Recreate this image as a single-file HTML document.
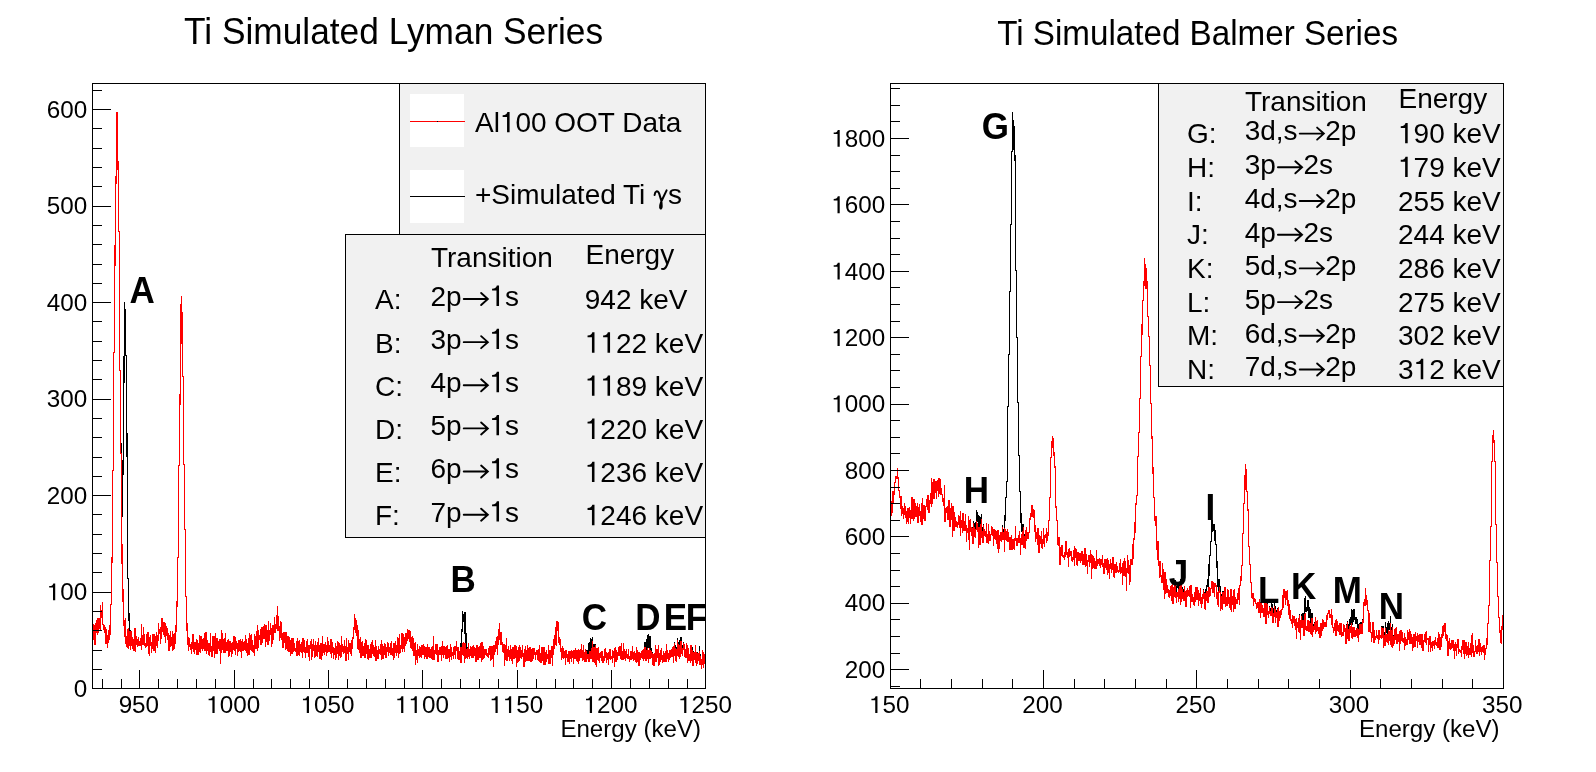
<!DOCTYPE html>
<html><head><meta charset="utf-8"><style>
html,body{margin:0;padding:0;background:#fff;}
svg{display:block;will-change:transform;}
text{font-family:"Liberation Sans",sans-serif;fill:#000;}
.c{shape-rendering:crispEdges;stroke-width:1px;}
path{fill:none;}
</style></head><body>
<svg width="1596" height="772" viewBox="0 0 1596 772">
<path d="M93.5 624v16M94.5 625v20M95.5 623v22M96.5 620v13M97.5 618v17M98.5 618v15M99.5 618v11M100.5 605v25M101.5 610v8M102.5 602v23M103.5 624v6M104.5 625v8M105.5 627v17M106.5 629v15M107.5 635v13M108.5 630v13M109.5 625v15M110.5 604v31M111.5 557v48M112.5 470v93M113.5 352v119M114.5 245v108M115.5 176v90M116.5 112v72M117.5 112v58M118.5 161v71M119.5 231v140M120.5 370v74M121.5 443v74M122.5 460v57M123.5 356v119M124.5 302v81M125.5 309v47M126.5 355v102M127.5 433v146M128.5 578v43M129.5 613v22M130.5 630v19M131.5 631v15M132.5 637v12M133.5 639v12M134.5 628v23M135.5 628v24M136.5 636v9M137.5 639v8M138.5 637v9M139.5 641v5M140.5 638v8M141.5 624v26M142.5 635v10M143.5 627v18M144.5 634v12M145.5 643v5M146.5 634v13M147.5 632v14M148.5 632v22M149.5 637v19M150.5 635v11M151.5 642v11M152.5 634v15M153.5 634v17M154.5 634v17M155.5 636v17M156.5 632v14M157.5 635v13M158.5 623v18M159.5 629v5M160.5 627v17M161.5 618v21M162.5 618v14M163.5 622v13M164.5 622v15M165.5 623v20M166.5 626v10M167.5 628v12M168.5 633v18M169.5 635v16M170.5 631v16M171.5 637v9M172.5 631v20M173.5 634v16M174.5 633v16M175.5 625v19M176.5 601v31M177.5 557v50M178.5 465v93M179.5 394v72M180.5 304v101M181.5 296v48M182.5 312v65M183.5 376v89M184.5 464v66M185.5 529v68M186.5 596v35M187.5 623v22M188.5 637v14M189.5 638v9M190.5 644v6M191.5 642v12M192.5 634v15M193.5 634v18M194.5 642v12M195.5 642v8M196.5 639v16M197.5 640v15M198.5 643v12M199.5 635v17M200.5 636v17M201.5 636v13M202.5 639v12M203.5 638v11M204.5 633v18M205.5 632v19M206.5 632v22M207.5 640v11M208.5 643v12M209.5 643v13M210.5 633v19M211.5 646v11M212.5 636v21M213.5 636v15M214.5 636v22M215.5 633v21M216.5 638v16M217.5 638v16M218.5 641v8M219.5 639v12M220.5 639v25M221.5 630v23M222.5 633v17M223.5 639v14M224.5 638v15M225.5 633v20M226.5 642v9M227.5 640v11M228.5 639v18M229.5 641v15M230.5 641v11M231.5 643v14M232.5 642v12M233.5 636v14M234.5 636v15M235.5 637v18M236.5 641v8M237.5 643v13M238.5 640v12M239.5 640v11M240.5 639v13M241.5 641v17M242.5 639v12M243.5 642v9M244.5 641v9M245.5 635v16M246.5 639v14M247.5 643v13M248.5 638v17M249.5 633v22M250.5 635v15M251.5 634v17M252.5 640v12M253.5 645v8M254.5 634v22M255.5 636v13M256.5 631v18M257.5 625v26M258.5 630v18M259.5 635v5M260.5 629v16M261.5 627v18M262.5 627v16M263.5 626v13M264.5 624v15M265.5 625v22M266.5 625v17M267.5 630v15M268.5 621v24M269.5 630v11M270.5 623v12M271.5 628v19M272.5 625v19M273.5 625v15M274.5 617v16M275.5 624v9M276.5 615v14M277.5 606v25M278.5 616v15M279.5 626v15M280.5 621v17M281.5 622v18M282.5 633v15M283.5 632v16M284.5 632v11M285.5 632v18M286.5 632v17M287.5 636v15M288.5 636v16M289.5 637v15M290.5 640v16M291.5 638v16M292.5 638v16M293.5 638v14M294.5 643v8M295.5 648v4M296.5 641v15M297.5 638v18M298.5 641v14M299.5 640v16M300.5 644v8M301.5 642v11M302.5 638v20M303.5 638v14M304.5 640v13M305.5 647v11M306.5 641v12M307.5 639v14M308.5 645v12M309.5 645v16M310.5 641v8M311.5 639v21M312.5 644v13M313.5 639v12M314.5 645v13M315.5 641v16M316.5 645v11M317.5 642v15M318.5 638v14M319.5 645v14M320.5 643v16M321.5 643v17M322.5 636v20M323.5 644v9M324.5 644v11M325.5 642v10M326.5 645v11M327.5 637v16M328.5 641v11M329.5 645v7M330.5 639v15M331.5 639v19M332.5 642v11M333.5 647v12M334.5 648v7M335.5 643v17M336.5 646v12M337.5 641v13M338.5 642v18M339.5 643v13M340.5 645v13M341.5 636v21M342.5 644v8M343.5 646v8M344.5 640v13M345.5 646v15M346.5 638v23M347.5 647v7M348.5 640v20M349.5 643v9M350.5 643v11M351.5 640v16M352.5 637v12M353.5 627v12M354.5 614v16M355.5 618v15M356.5 620v16M357.5 625v24M358.5 630v20M359.5 639v14M360.5 637v21M361.5 642v16M362.5 641v15M363.5 646v10M364.5 643v15M365.5 639v19M366.5 640v14M367.5 645v14M368.5 645v15M369.5 649v9M370.5 644v14M371.5 642v16M372.5 640v14M373.5 645v11M374.5 647v10M375.5 640v21M376.5 646v15M377.5 650v9M378.5 646v13M379.5 649v5M380.5 644v11M381.5 640v20M382.5 644v15M383.5 646v13M384.5 643v12M385.5 644v14M386.5 647v11M387.5 642v10M388.5 643v13M389.5 647v6M390.5 643v12M391.5 641v14M392.5 648v8M393.5 643v17M394.5 643v15M395.5 641v12M396.5 645v11M397.5 637v16M398.5 638v20M399.5 634v20M400.5 645v8M401.5 633v16M402.5 633v19M403.5 634v15M404.5 637v15M405.5 633v13M406.5 633v11M407.5 629v12M408.5 630v9M409.5 630v12M410.5 631v17M411.5 637v12M412.5 636v15M413.5 638v18M414.5 643v13M415.5 642v23M416.5 650v10M417.5 644v19M418.5 649v7M419.5 646v12M420.5 647v10M421.5 645v13M422.5 645v10M423.5 644v11M424.5 646v13M425.5 647v10M426.5 647v12M427.5 644v15M428.5 647v10M429.5 647v11M430.5 649v9M431.5 647v12M432.5 646v14M433.5 636v24M434.5 650v10M435.5 644v10M436.5 644v11M437.5 644v18M438.5 650v12M439.5 647v8M440.5 647v8M441.5 646v15M442.5 641v14M443.5 646v12M444.5 646v9M445.5 647v12M446.5 646v13M447.5 645v14M448.5 649v9M449.5 649v13M450.5 644v13M451.5 647v13M452.5 652v4M453.5 647v12M454.5 646v9M455.5 646v13M456.5 641v10M457.5 647v12M458.5 647v13M459.5 651v9M460.5 643v16M461.5 629v29M462.5 611v21M463.5 614v8M464.5 612v22M465.5 612v32M466.5 633v21M467.5 647v9M468.5 643v14M469.5 649v10M470.5 646v10M471.5 647v11M472.5 646v12M473.5 645v13M474.5 647v9M475.5 648v14M476.5 645v17M477.5 645v15M478.5 647v13M479.5 646v12M480.5 643v15M481.5 642v20M482.5 642v18M483.5 646v13M484.5 649v9M485.5 649v6M486.5 649v7M487.5 653v4M488.5 648v10M489.5 646v9M490.5 646v15M491.5 646v14M492.5 646v13M493.5 645v22M494.5 645v10M495.5 641v11M496.5 637v12M497.5 636v19M498.5 629v16M499.5 623v17M500.5 632v13M501.5 632v13M502.5 642v10M503.5 644v9M504.5 644v22M505.5 645v15M506.5 638v23M507.5 649v12M508.5 646v11M509.5 650v11M510.5 645v14M511.5 649v12M512.5 647v17M513.5 647v12M514.5 645v14M515.5 645v13M516.5 646v21M517.5 650v13M518.5 647v15M519.5 645v16M520.5 647v11M521.5 650v9M522.5 645v12M523.5 653v14M524.5 649v18M525.5 646v16M526.5 650v11M527.5 645v16M528.5 648v13M529.5 647v14M530.5 647v15M531.5 649v13M532.5 648v13M533.5 648v11M534.5 648v7M535.5 652v8M536.5 650v5M537.5 650v10M538.5 649v12M539.5 645v17M540.5 653v10M541.5 647v16M542.5 647v14M543.5 647v18M544.5 647v18M545.5 652v13M546.5 650v12M547.5 654v5M548.5 645v19M549.5 650v14M550.5 650v14M551.5 646v12M552.5 646v20M553.5 639v16M554.5 635v14M555.5 627v18M556.5 621v25M557.5 621v10M558.5 622v21M559.5 637v8M560.5 639v13M561.5 648v12M562.5 646v12M563.5 648v11M564.5 651v7M565.5 650v15M566.5 650v8M567.5 654v8M568.5 651v11M569.5 651v13M570.5 651v8M571.5 650v12M572.5 651v7M573.5 650v14M574.5 650v9M575.5 648v11M576.5 650v11M577.5 650v12M578.5 649v15M579.5 650v11M580.5 649v9M581.5 644v14M582.5 650v11M583.5 645v15M584.5 652v10M585.5 649v13M586.5 650v12M587.5 650v9M588.5 643v17M589.5 642v16M590.5 638v14M591.5 639v13M592.5 637v19M593.5 644v13M594.5 644v18M595.5 644v21M596.5 648v19M597.5 648v12M598.5 647v14M599.5 653v10M600.5 652v6M601.5 651v10M602.5 651v12M603.5 656v7M604.5 649v12M605.5 648v10M606.5 652v11M607.5 653v7M608.5 652v13M609.5 649v10M610.5 649v11M611.5 656v3M612.5 650v13M613.5 651v7M614.5 648v19M615.5 647v15M616.5 650v12M617.5 652v8M618.5 647v9M619.5 646v10M620.5 646v13M621.5 643v17M622.5 651v9M623.5 643v17M624.5 649v10M625.5 651v10M626.5 649v9M627.5 654v5M628.5 649v10M629.5 656v6M630.5 651v9M631.5 651v9M632.5 646v13M633.5 652v9M634.5 651v9M635.5 653v9M636.5 647v16M637.5 650v12M638.5 652v14M639.5 652v14M640.5 653v7M641.5 651v7M642.5 650v9M643.5 649v12M644.5 642v16M645.5 642v15M646.5 639v13M647.5 635v17M648.5 634v14M649.5 636v13M650.5 636v22M651.5 648v9M652.5 652v13M653.5 654v12M654.5 653v13M655.5 645v17M656.5 649v13M657.5 649v9M658.5 645v21M659.5 653v12M660.5 650v12M661.5 648v12M662.5 655v8M663.5 651v11M664.5 653v9M665.5 651v11M666.5 644v18M667.5 650v9M668.5 653v9M669.5 650v10M670.5 650v8M671.5 649v8M672.5 647v10M673.5 646v17M674.5 642v13M675.5 645v16M676.5 647v11M677.5 638v17M678.5 642v12M679.5 640v15M680.5 637v16M681.5 637v16M682.5 645v9M683.5 642v8M684.5 644v13M685.5 649v9M686.5 643v15M687.5 645v18M688.5 648v13M689.5 654v7M690.5 645v18M691.5 645v15M692.5 647v18M693.5 651v14M694.5 652v8M695.5 645v18M696.5 652v14M697.5 652v11M698.5 653v8M699.5 646v18M700.5 654v10M701.5 659v10M702.5 650v15M703.5 652v16M704.5 654v10" stroke="#000" class="c"/>
<path d="M93.5 624v16M94.5 625v20M95.5 623v22M96.5 620v13M97.5 618v17M98.5 618v15M99.5 618v11M100.5 605v25M101.5 610v8M102.5 602v23M103.5 624v6M104.5 625v8M105.5 627v17M106.5 629v15M107.5 635v13M108.5 630v13M109.5 625v15M110.5 604v31M111.5 557v48M112.5 470v93M113.5 352v119M114.5 245v108M115.5 176v90M116.5 112v72M117.5 112v58M118.5 161v71M119.5 231v140M120.5 370v84M121.5 453v111M122.5 544v58M123.5 589v37M124.5 620v17M125.5 618v26M126.5 636v11M127.5 629v19M128.5 628v21M129.5 631v15M130.5 631v19M131.5 631v15M132.5 637v12M133.5 639v12M134.5 628v23M135.5 628v24M136.5 636v9M137.5 639v8M138.5 637v9M139.5 641v5M140.5 638v8M141.5 624v26M142.5 635v10M143.5 627v18M144.5 634v12M145.5 643v5M146.5 634v13M147.5 632v14M148.5 632v22M149.5 637v19M150.5 635v11M151.5 642v11M152.5 634v15M153.5 634v17M154.5 634v17M155.5 636v17M156.5 632v14M157.5 635v13M158.5 623v18M159.5 629v5M160.5 627v17M161.5 618v21M162.5 618v14M163.5 622v13M164.5 622v15M165.5 623v20M166.5 626v10M167.5 628v12M168.5 633v18M169.5 635v16M170.5 631v16M171.5 637v9M172.5 631v20M173.5 634v16M174.5 633v16M175.5 625v19M176.5 601v31M177.5 557v50M178.5 465v93M179.5 394v72M180.5 304v101M181.5 296v48M182.5 312v65M183.5 376v89M184.5 464v66M185.5 529v68M186.5 596v35M187.5 623v22M188.5 637v14M189.5 638v9M190.5 644v6M191.5 642v12M192.5 634v15M193.5 634v18M194.5 642v12M195.5 642v8M196.5 639v16M197.5 640v15M198.5 643v12M199.5 635v17M200.5 636v17M201.5 636v13M202.5 639v12M203.5 638v11M204.5 633v18M205.5 632v19M206.5 632v22M207.5 640v11M208.5 643v12M209.5 643v13M210.5 633v19M211.5 646v11M212.5 636v21M213.5 636v15M214.5 636v22M215.5 633v21M216.5 638v16M217.5 638v16M218.5 641v8M219.5 639v12M220.5 639v25M221.5 630v23M222.5 633v17M223.5 639v14M224.5 638v15M225.5 633v20M226.5 642v9M227.5 640v11M228.5 639v18M229.5 641v15M230.5 641v11M231.5 643v14M232.5 642v12M233.5 636v14M234.5 636v15M235.5 637v18M236.5 641v8M237.5 643v13M238.5 640v12M239.5 640v11M240.5 639v13M241.5 641v17M242.5 639v12M243.5 642v9M244.5 641v9M245.5 635v16M246.5 639v14M247.5 643v13M248.5 638v17M249.5 633v22M250.5 635v15M251.5 634v17M252.5 640v12M253.5 645v8M254.5 634v22M255.5 636v13M256.5 631v18M257.5 625v26M258.5 630v18M259.5 635v5M260.5 629v16M261.5 627v18M262.5 627v16M263.5 626v13M264.5 624v15M265.5 625v22M266.5 625v17M267.5 630v15M268.5 621v24M269.5 630v11M270.5 623v12M271.5 628v19M272.5 625v19M273.5 625v15M274.5 617v16M275.5 624v9M276.5 615v14M277.5 606v25M278.5 616v15M279.5 626v15M280.5 621v17M281.5 622v18M282.5 633v15M283.5 632v16M284.5 632v11M285.5 632v18M286.5 632v17M287.5 636v15M288.5 636v16M289.5 637v15M290.5 640v16M291.5 638v16M292.5 638v16M293.5 638v14M294.5 643v8M295.5 648v4M296.5 641v15M297.5 638v18M298.5 641v14M299.5 640v16M300.5 644v8M301.5 642v11M302.5 638v20M303.5 638v14M304.5 640v13M305.5 647v11M306.5 641v12M307.5 639v14M308.5 645v12M309.5 645v16M310.5 641v8M311.5 639v21M312.5 644v13M313.5 639v12M314.5 645v13M315.5 641v16M316.5 645v11M317.5 642v15M318.5 638v14M319.5 645v14M320.5 643v16M321.5 643v17M322.5 636v20M323.5 644v9M324.5 644v11M325.5 642v10M326.5 645v11M327.5 637v16M328.5 641v11M329.5 645v7M330.5 639v15M331.5 639v19M332.5 642v11M333.5 647v12M334.5 648v7M335.5 643v17M336.5 646v12M337.5 641v13M338.5 642v18M339.5 643v13M340.5 645v13M341.5 636v21M342.5 644v8M343.5 646v8M344.5 640v13M345.5 646v15M346.5 638v23M347.5 647v7M348.5 640v20M349.5 643v9M350.5 643v11M351.5 640v16M352.5 637v12M353.5 627v12M354.5 614v16M355.5 618v15M356.5 620v16M357.5 625v24M358.5 630v20M359.5 639v14M360.5 637v21M361.5 642v16M362.5 641v15M363.5 646v10M364.5 643v15M365.5 639v19M366.5 640v14M367.5 645v14M368.5 645v15M369.5 649v9M370.5 644v14M371.5 642v16M372.5 640v14M373.5 645v11M374.5 647v10M375.5 640v21M376.5 646v15M377.5 650v9M378.5 646v13M379.5 649v5M380.5 644v11M381.5 640v20M382.5 644v15M383.5 646v13M384.5 643v12M385.5 644v14M386.5 647v11M387.5 642v10M388.5 643v13M389.5 647v6M390.5 643v12M391.5 641v14M392.5 648v8M393.5 643v17M394.5 643v15M395.5 641v12M396.5 645v11M397.5 637v16M398.5 638v20M399.5 634v20M400.5 645v8M401.5 633v16M402.5 633v19M403.5 634v15M404.5 637v15M405.5 633v13M406.5 633v11M407.5 629v12M408.5 630v9M409.5 630v12M410.5 631v17M411.5 637v12M412.5 636v15M413.5 638v18M414.5 643v13M415.5 642v23M416.5 650v10M417.5 644v19M418.5 649v7M419.5 646v12M420.5 647v10M421.5 645v13M422.5 645v10M423.5 644v11M424.5 646v13M425.5 647v10M426.5 647v12M427.5 644v15M428.5 647v10M429.5 647v11M430.5 649v9M431.5 647v12M432.5 646v14M433.5 636v24M434.5 650v10M435.5 644v10M436.5 644v11M437.5 644v18M438.5 650v12M439.5 647v8M440.5 647v8M441.5 646v15M442.5 641v14M443.5 646v12M444.5 646v9M445.5 647v12M446.5 646v13M447.5 645v14M448.5 649v9M449.5 649v13M450.5 644v13M451.5 647v13M452.5 652v4M453.5 647v12M454.5 646v9M455.5 646v13M456.5 641v10M457.5 647v12M458.5 647v13M459.5 651v9M460.5 647v16M461.5 647v16M462.5 643v12M463.5 642v14M464.5 643v20M465.5 643v16M466.5 649v9M467.5 648v11M468.5 643v14M469.5 649v10M470.5 646v10M471.5 647v11M472.5 646v12M473.5 645v13M474.5 647v9M475.5 648v14M476.5 645v17M477.5 645v15M478.5 647v13M479.5 646v12M480.5 643v15M481.5 642v20M482.5 642v18M483.5 646v13M484.5 649v9M485.5 649v6M486.5 649v7M487.5 653v4M488.5 648v10M489.5 646v9M490.5 646v15M491.5 646v14M492.5 646v13M493.5 645v22M494.5 645v10M495.5 641v11M496.5 637v12M497.5 636v19M498.5 629v16M499.5 623v17M500.5 632v13M501.5 632v13M502.5 642v10M503.5 644v9M504.5 644v22M505.5 645v15M506.5 638v23M507.5 649v12M508.5 646v11M509.5 650v11M510.5 645v14M511.5 649v12M512.5 647v17M513.5 647v12M514.5 645v14M515.5 645v13M516.5 646v21M517.5 650v13M518.5 647v15M519.5 645v16M520.5 647v11M521.5 650v9M522.5 645v12M523.5 653v14M524.5 649v18M525.5 646v16M526.5 650v11M527.5 645v16M528.5 648v13M529.5 647v14M530.5 647v15M531.5 649v13M532.5 648v13M533.5 648v11M534.5 648v7M535.5 652v8M536.5 650v5M537.5 650v10M538.5 649v12M539.5 645v17M540.5 653v10M541.5 647v16M542.5 647v14M543.5 647v18M544.5 647v18M545.5 652v13M546.5 650v12M547.5 654v5M548.5 645v19M549.5 650v14M550.5 650v14M551.5 646v12M552.5 646v20M553.5 639v16M554.5 635v14M555.5 627v18M556.5 621v25M557.5 621v10M558.5 622v21M559.5 637v8M560.5 639v13M561.5 648v12M562.5 646v12M563.5 648v11M564.5 651v7M565.5 650v15M566.5 650v8M567.5 654v8M568.5 651v11M569.5 651v13M570.5 651v8M571.5 650v12M572.5 651v7M573.5 650v14M574.5 650v9M575.5 648v11M576.5 650v11M577.5 650v12M578.5 649v15M579.5 650v11M580.5 649v9M581.5 644v14M582.5 650v11M583.5 645v15M584.5 652v10M585.5 649v13M586.5 651v11M587.5 654v5M588.5 654v8M589.5 651v11M590.5 651v8M591.5 648v11M592.5 641v21M593.5 647v15M594.5 647v16M595.5 645v20M596.5 648v19M597.5 648v12M598.5 647v14M599.5 653v10M600.5 652v6M601.5 651v10M602.5 651v12M603.5 656v7M604.5 649v12M605.5 648v10M606.5 652v11M607.5 653v7M608.5 652v13M609.5 649v10M610.5 649v11M611.5 656v3M612.5 650v13M613.5 651v7M614.5 648v19M615.5 647v15M616.5 650v12M617.5 652v8M618.5 647v9M619.5 646v10M620.5 646v13M621.5 643v17M622.5 651v9M623.5 643v17M624.5 649v10M625.5 651v10M626.5 649v9M627.5 654v5M628.5 649v10M629.5 656v6M630.5 651v9M631.5 651v9M632.5 646v13M633.5 652v9M634.5 651v9M635.5 653v9M636.5 647v16M637.5 650v12M638.5 652v14M639.5 652v14M640.5 653v7M641.5 651v7M642.5 650v9M643.5 649v12M644.5 647v12M645.5 647v14M646.5 650v11M647.5 648v11M648.5 650v13M649.5 648v11M650.5 650v9M651.5 651v7M652.5 653v12M653.5 654v12M654.5 653v13M655.5 645v17M656.5 649v13M657.5 649v9M658.5 645v21M659.5 653v12M660.5 650v12M661.5 648v12M662.5 655v8M663.5 651v11M664.5 653v9M665.5 651v11M666.5 644v18M667.5 650v9M668.5 653v9M669.5 650v10M670.5 650v8M671.5 649v8M672.5 647v10M673.5 646v17M674.5 643v13M675.5 648v13M676.5 649v13M677.5 640v16M678.5 644v13M679.5 645v14M680.5 641v16M681.5 641v13M682.5 648v8M683.5 643v7M684.5 644v13M685.5 649v9M686.5 643v15M687.5 645v18M688.5 648v13M689.5 654v7M690.5 645v18M691.5 645v16M692.5 650v16M693.5 652v14M694.5 652v8M695.5 645v18M696.5 652v14M697.5 653v11M698.5 653v8M699.5 651v14M700.5 656v9M701.5 659v10M702.5 650v15M703.5 652v16M704.5 654v10" stroke="#f00" class="c"/>
<rect x="92.5" y="83.5" width="613" height="605" fill="none" stroke="#000" class="c"/>
<path d="M139.5 689V670M234.5 689V670M328.5 689V670M422.5 689V670M517.5 689V670M611.5 689V670M705.5 689V670M102.5 689V679M121.5 689V679M158.5 689V679M177.5 689V679M196.5 689V679M215.5 689V679M253.5 689V679M271.5 689V679M290.5 689V679M309.5 689V679M347.5 689V679M366.5 689V679M385.5 689V679M404.5 689V679M441.5 689V679M460.5 689V679M479.5 689V679M498.5 689V679M536.5 689V679M555.5 689V679M573.5 689V679M592.5 689V679M630.5 689V679M649.5 689V679M668.5 689V679M687.5 689V679M92 688.5H111M92 592.5H111M92 495.5H111M92 399.5H111M92 302.5H111M92 206.5H111M92 109.5H111M92 669.5H102M92 650.5H102M92 630.5H102M92 611.5H102M92 572.5H102M92 553.5H102M92 534.5H102M92 514.5H102M92 476.5H102M92 457.5H102M92 437.5H102M92 418.5H102M92 379.5H102M92 360.5H102M92 341.5H102M92 321.5H102M92 283.5H102M92 264.5H102M92 244.5H102M92 225.5H102M92 186.5H102M92 167.5H102M92 148.5H102M92 128.5H102M92 90.5H102" stroke="#000" class="c"/>
<g transform="translate(138.88 0) scale(1.055 1) translate(-138.88 0)"><g transform="translate(0 713.00) scale(1 1.030) translate(0 -713.00)"><text x="119.69" y="713.00" font-size="23">950</text></g></g>
<g transform="translate(233.23 0) scale(1.055 1) translate(-233.23 0)"><g transform="translate(0 713.00) scale(1 1.030) translate(0 -713.00)"><text x="207.64" y="713.00" font-size="23"> 000</text><path d="M346 0V712H268C254 640 210 604 98 600V536H255V0Z" transform="translate(207.64 713.00) scale(0.02300 -0.02300)" style="fill:#000"/></g></g>
<g transform="translate(327.57 0) scale(1.055 1) translate(-327.57 0)"><g transform="translate(0 713.00) scale(1 1.030) translate(0 -713.00)"><text x="301.99" y="713.00" font-size="23"> 050</text><path d="M346 0V712H268C254 640 210 604 98 600V536H255V0Z" transform="translate(301.99 713.00) scale(0.02300 -0.02300)" style="fill:#000"/></g></g>
<g transform="translate(421.93 0) scale(1.055 1) translate(-421.93 0)"><g transform="translate(0 713.00) scale(1 1.030) translate(0 -713.00)"><text x="396.34" y="713.00" font-size="23">  00</text><path d="M346 0V712H268C254 640 210 604 98 600V536H255V0Z" transform="translate(396.34 713.00) scale(0.02300 -0.02300)" style="fill:#000"/><path d="M346 0V712H268C254 640 210 604 98 600V536H255V0Z" transform="translate(409.13 713.00) scale(0.02300 -0.02300)" style="fill:#000"/></g></g>
<g transform="translate(516.27 0) scale(1.055 1) translate(-516.27 0)"><g transform="translate(0 713.00) scale(1 1.030) translate(0 -713.00)"><text x="490.69" y="713.00" font-size="23">  50</text><path d="M346 0V712H268C254 640 210 604 98 600V536H255V0Z" transform="translate(490.69 713.00) scale(0.02300 -0.02300)" style="fill:#000"/><path d="M346 0V712H268C254 640 210 604 98 600V536H255V0Z" transform="translate(503.48 713.00) scale(0.02300 -0.02300)" style="fill:#000"/></g></g>
<g transform="translate(610.62 0) scale(1.055 1) translate(-610.62 0)"><g transform="translate(0 713.00) scale(1 1.030) translate(0 -713.00)"><text x="585.04" y="713.00" font-size="23"> 200</text><path d="M346 0V712H268C254 640 210 604 98 600V536H255V0Z" transform="translate(585.04 713.00) scale(0.02300 -0.02300)" style="fill:#000"/></g></g>
<g transform="translate(704.98 0) scale(1.055 1) translate(-704.98 0)"><g transform="translate(0 713.00) scale(1 1.030) translate(0 -713.00)"><text x="679.39" y="713.00" font-size="23"> 250</text><path d="M346 0V712H268C254 640 210 604 98 600V536H255V0Z" transform="translate(679.39 713.00) scale(0.02300 -0.02300)" style="fill:#000"/></g></g>
<g transform="translate(87.30 0) scale(1.055 1) translate(-87.30 0)"><g transform="translate(0 696.80) scale(1 1.030) translate(0 -696.80)"><text x="74.51" y="696.80" font-size="23">0</text></g></g>
<g transform="translate(87.30 0) scale(1.055 1) translate(-87.30 0)"><g transform="translate(0 600.30) scale(1 1.030) translate(0 -600.30)"><text x="48.93" y="600.30" font-size="23"> 00</text><path d="M346 0V712H268C254 640 210 604 98 600V536H255V0Z" transform="translate(48.93 600.30) scale(0.02300 -0.02300)" style="fill:#000"/></g></g>
<g transform="translate(87.30 0) scale(1.055 1) translate(-87.30 0)"><g transform="translate(0 503.80) scale(1 1.030) translate(0 -503.80)"><text x="48.93" y="503.80" font-size="23">200</text></g></g>
<g transform="translate(87.30 0) scale(1.055 1) translate(-87.30 0)"><g transform="translate(0 407.30) scale(1 1.030) translate(0 -407.30)"><text x="48.93" y="407.30" font-size="23">300</text></g></g>
<g transform="translate(87.30 0) scale(1.055 1) translate(-87.30 0)"><g transform="translate(0 310.80) scale(1 1.030) translate(0 -310.80)"><text x="48.93" y="310.80" font-size="23">400</text></g></g>
<g transform="translate(87.30 0) scale(1.055 1) translate(-87.30 0)"><g transform="translate(0 214.30) scale(1 1.030) translate(0 -214.30)"><text x="48.93" y="214.30" font-size="23">500</text></g></g>
<g transform="translate(87.30 0) scale(1.055 1) translate(-87.30 0)"><g transform="translate(0 117.80) scale(1 1.030) translate(0 -117.80)"><text x="48.93" y="117.80" font-size="23">600</text></g></g>
<path d="M891.5 501v15M892.5 491v22M893.5 491v12M894.5 482v13M895.5 476v7M896.5 476v3M897.5 468v11M898.5 477v14M899.5 490v8M900.5 496v13M901.5 496v20M902.5 506v8M903.5 508v11M904.5 503v12M905.5 506v12M906.5 511v13M907.5 508v14M908.5 508v16M909.5 507v11M910.5 510v14M911.5 497v22M912.5 497v22M913.5 499v22M914.5 499v20M915.5 503v14M916.5 506v11M917.5 503v20M918.5 507v16M919.5 504v12M920.5 511v11M921.5 503v22M922.5 498v27M923.5 505v14M924.5 505v16M925.5 506v15M926.5 499v8M927.5 495v15M928.5 495v18M929.5 500v13M930.5 493v11M931.5 478v29M932.5 482v22M933.5 479v20M934.5 479v20M935.5 481v12M936.5 481v18M937.5 480v11M938.5 478v19M939.5 478v16M940.5 479v16M941.5 488v7M942.5 494v8M943.5 498v8M944.5 485v37M945.5 508v14M946.5 507v6M947.5 506v14M948.5 500v20M949.5 500v27M950.5 508v19M951.5 503v17M952.5 506v31M953.5 506v25M954.5 512v19M955.5 517v10M956.5 521v6M957.5 522v6M958.5 515v10M959.5 516v12M960.5 511v25M961.5 520v8M962.5 513v20M963.5 513v18M964.5 521v10M965.5 514v17M966.5 525v17M967.5 528v5M968.5 516v24M969.5 520v30M970.5 519v13M971.5 527v9M972.5 527v16M973.5 521v22M974.5 523v11M975.5 522v11M976.5 510v13M977.5 512v10M978.5 515v20M979.5 516v14M980.5 517v13M981.5 514v20M982.5 527v14M983.5 524v17M984.5 529v5M985.5 531v6M986.5 523v19M987.5 534v8M988.5 524v20M989.5 531v10M990.5 534v7M991.5 526v9M992.5 527v9M993.5 529v17M994.5 529v10M995.5 530v10M996.5 531v13M997.5 530v19M998.5 530v23M999.5 535v14M1000.5 532v8M1001.5 532v9M1002.5 525v14M1003.5 529v4M1004.5 515v31M1005.5 497v24M1006.5 481v17M1007.5 406v76M1008.5 354v53M1009.5 291v64M1010.5 224v68M1011.5 151v74M1012.5 112v40M1013.5 120v30M1014.5 126v35M1015.5 155v116M1016.5 270v68M1017.5 337v66M1018.5 402v54M1019.5 455v37M1020.5 491v32M1021.5 513v19M1022.5 524v14M1023.5 524v23M1024.5 534v13M1025.5 530v19M1026.5 527v14M1027.5 532v7M1028.5 532v7M1029.5 518v15M1030.5 513v7M1031.5 505v12M1032.5 505v12M1033.5 509v9M1034.5 510v22M1035.5 525v17M1036.5 532v7M1037.5 528v17M1038.5 528v25M1039.5 535v18M1040.5 536v8M1041.5 531v17M1042.5 539v10M1043.5 528v16M1044.5 535v12M1045.5 534v4M1046.5 528v15M1047.5 532v9M1048.5 520v16M1049.5 497v24M1050.5 457v41M1051.5 441v17M1052.5 436v12M1053.5 438v18M1054.5 452v16M1055.5 466v42M1056.5 506v15M1057.5 520v25M1058.5 537v9M1059.5 537v28M1060.5 547v18M1061.5 545v11M1062.5 545v12M1063.5 555v3M1064.5 552v8M1065.5 541v16M1066.5 541v14M1067.5 552v6M1068.5 549v18M1069.5 548v9M1070.5 551v5M1071.5 551v10M1072.5 557v5M1073.5 550v10M1074.5 546v20M1075.5 548v10M1076.5 549v16M1077.5 552v14M1078.5 552v9M1079.5 553v8M1080.5 553v10M1081.5 551v10M1082.5 551v14M1083.5 554v11M1084.5 548v17M1085.5 548v19M1086.5 554v12M1087.5 560v14M1088.5 555v7M1089.5 555v12M1090.5 550v13M1091.5 554v25M1092.5 555v14M1093.5 556v12M1094.5 558v11M1095.5 561v8M1096.5 550v19M1097.5 559v7M1098.5 559v5M1099.5 558v8M1100.5 559v9M1101.5 559v6M1102.5 555v12M1103.5 563v11M1104.5 559v15M1105.5 559v9M1106.5 559v11M1107.5 558v17M1108.5 560v13M1109.5 564v15M1110.5 559v10M1111.5 563v10M1112.5 557v13M1113.5 557v20M1114.5 564v14M1115.5 564v9M1116.5 562v11M1117.5 566v6M1118.5 570v3M1119.5 563v9M1120.5 559v15M1121.5 567v6M1122.5 563v22M1123.5 561v15M1124.5 558v18M1125.5 561v16M1126.5 568v23M1127.5 555v18M1128.5 560v14M1129.5 565v20M1130.5 559v23M1131.5 559v6M1132.5 544v21M1133.5 538v21M1134.5 522v18M1135.5 503v30M1136.5 495v10M1137.5 456v40M1138.5 432v25M1139.5 398v35M1140.5 356v43M1141.5 324v33M1142.5 300v35M1143.5 281v20M1144.5 258v28M1145.5 264v25M1146.5 268v21M1147.5 281v36M1148.5 316v21M1149.5 336v30M1150.5 365v39M1151.5 403v36M1152.5 436v38M1153.5 467v31M1154.5 497v24M1155.5 516v10M1156.5 516v34M1157.5 541v19M1158.5 541v25M1159.5 561v17M1160.5 561v16M1161.5 575v8M1162.5 563v20M1163.5 569v21M1164.5 572v27M1165.5 572v22M1166.5 579v14M1167.5 585v8M1168.5 589v8M1169.5 590v8M1170.5 586v10M1171.5 585v16M1172.5 581v23M1173.5 587v17M1174.5 580v14M1175.5 580v14M1176.5 586v13M1177.5 586v2M1178.5 584v11M1179.5 582v9M1180.5 579v21M1181.5 580v17M1182.5 587v9M1183.5 589v12M1184.5 586v15M1185.5 591v16M1186.5 590v17M1187.5 588v9M1188.5 590v6M1189.5 586v11M1190.5 585v23M1191.5 585v17M1192.5 594v8M1193.5 597v8M1194.5 592v14M1195.5 587v15M1196.5 587v13M1197.5 587v13M1198.5 590v16M1199.5 593v8M1200.5 588v16M1201.5 597v11M1202.5 594v10M1203.5 589v10M1204.5 592v14M1205.5 589v18M1206.5 585v12M1207.5 579v8M1208.5 564v23M1209.5 555v21M1210.5 541v15M1211.5 520v22M1212.5 520v12M1213.5 524v7M1214.5 524v17M1215.5 530v15M1216.5 544v24M1217.5 561v26M1218.5 579v12M1219.5 579v8M1220.5 586v20M1221.5 594v14M1222.5 591v18M1223.5 591v13M1224.5 587v17M1225.5 587v20M1226.5 597v9M1227.5 589v17M1228.5 590v14M1229.5 597v11M1230.5 589v21M1231.5 589v23M1232.5 596v9M1233.5 590v22M1234.5 589v20M1235.5 597v12M1236.5 599v5M1237.5 593v11M1238.5 588v12M1239.5 585v20M1240.5 576v10M1241.5 565v16M1242.5 533v33M1243.5 503v31M1244.5 475v29M1245.5 464v26M1246.5 469v23M1247.5 491v20M1248.5 509v38M1249.5 546v19M1250.5 564v19M1251.5 582v16M1252.5 593v6M1253.5 593v13M1254.5 598v4M1255.5 599v5M1256.5 603v6M1257.5 602v6M1258.5 602v11M1259.5 599v14M1260.5 602v16M1261.5 602v11M1262.5 605v8M1263.5 608v9M1264.5 602v15M1265.5 601v23M1266.5 602v22M1267.5 603v11M1268.5 611v7M1269.5 606v6M1270.5 608v6M1271.5 603v11M1272.5 604v17M1273.5 608v13M1274.5 603v10M1275.5 606v15M1276.5 610v7M1277.5 608v18M1278.5 607v19M1279.5 611v9M1280.5 610v8M1281.5 609v6M1282.5 595v15M1283.5 589v19M1284.5 589v9M1285.5 591v14M1286.5 591v9M1287.5 590v16M1288.5 600v15M1289.5 604v15M1290.5 610v11M1291.5 619v5M1292.5 615v13M1293.5 616v7M1294.5 616v10M1295.5 619v11M1296.5 618v20M1297.5 622v6M1298.5 618v14M1299.5 614v19M1300.5 620v19M1301.5 614v13M1302.5 613v9M1303.5 613v16M1304.5 598v31M1305.5 596v16M1306.5 607v5M1307.5 600v11M1308.5 600v18M1309.5 607v11M1310.5 609v18M1311.5 613v15M1312.5 613v21M1313.5 624v7M1314.5 622v7M1315.5 617v16M1316.5 621v11M1317.5 620v11M1318.5 627v7M1319.5 627v11M1320.5 623v15M1321.5 623v13M1322.5 619v12M1323.5 620v9M1324.5 622v5M1325.5 622v5M1326.5 615v12M1327.5 613v7M1328.5 610v4M1329.5 610v8M1330.5 614v4M1331.5 609v16M1332.5 615v13M1333.5 627v6M1334.5 623v8M1335.5 620v16M1336.5 619v17M1337.5 621v10M1338.5 625v7M1339.5 623v12M1340.5 623v12M1341.5 623v14M1342.5 632v4M1343.5 624v12M1344.5 625v7M1345.5 628v15M1346.5 624v19M1347.5 621v16M1348.5 624v14M1349.5 619v19M1350.5 617v8M1351.5 609v16M1352.5 610v15M1353.5 609v13M1354.5 609v11M1355.5 617v7M1356.5 617v7M1357.5 619v14M1358.5 624v13M1359.5 623v10M1360.5 622v11M1361.5 622v12M1362.5 619v15M1363.5 602v21M1364.5 599v7M1365.5 588v18M1366.5 595v10M1367.5 600v11M1368.5 610v22M1369.5 613v19M1370.5 622v11M1371.5 632v10M1372.5 622v16M1373.5 622v21M1374.5 630v13M1375.5 636v4M1376.5 630v8M1377.5 635v4M1378.5 630v14M1379.5 630v10M1380.5 635v3M1381.5 626v13M1382.5 626v11M1383.5 626v21M1384.5 632v11M1385.5 622v21M1386.5 627v6M1387.5 623v11M1388.5 621v13M1389.5 623v7M1390.5 616v22M1391.5 627v17M1392.5 624v22M1393.5 635v9M1394.5 629v14M1395.5 628v12M1396.5 627v17M1397.5 634v10M1398.5 634v8M1399.5 631v20M1400.5 630v14M1401.5 630v11M1402.5 632v10M1403.5 638v5M1404.5 633v17M1405.5 637v9M1406.5 639v6M1407.5 630v15M1408.5 632v8M1409.5 629v15M1410.5 631v13M1411.5 634v10M1412.5 637v14M1413.5 634v14M1414.5 634v13M1415.5 632v15M1416.5 636v5M1417.5 633v15M1418.5 635v7M1419.5 634v11M1420.5 634v11M1421.5 634v14M1422.5 634v17M1423.5 640v11M1424.5 634v8M1425.5 632v11M1426.5 631v14M1427.5 638v2M1428.5 638v14M1429.5 636v9M1430.5 636v16M1431.5 642v6M1432.5 641v10M1433.5 641v5M1434.5 640v9M1435.5 637v8M1436.5 642v4M1437.5 638v10M1438.5 632v16M1439.5 634v16M1440.5 637v13M1441.5 634v13M1442.5 626v12M1443.5 625v11M1444.5 623v9M1445.5 623v16M1446.5 634v7M1447.5 635v21M1448.5 641v15M1449.5 638v11M1450.5 643v7M1451.5 640v9M1452.5 640v8M1453.5 640v11M1454.5 644v15M1455.5 642v9M1456.5 644v12M1457.5 639v9M1458.5 639v15M1459.5 649v3M1460.5 650v3M1461.5 646v11M1462.5 640v10M1463.5 640v14M1464.5 640v19M1465.5 642v12M1466.5 642v14M1467.5 646v9M1468.5 642v16M1469.5 648v7M1470.5 643v12M1471.5 635v22M1472.5 633v20M1473.5 645v12M1474.5 651v6M1475.5 640v12M1476.5 646v8M1477.5 645v9M1478.5 639v13M1479.5 639v17M1480.5 643v9M1481.5 647v8M1482.5 646v6M1483.5 645v8M1484.5 645v15M1485.5 648v7M1486.5 638v11M1487.5 623v22M1488.5 605v19M1489.5 560v46M1490.5 526v35M1491.5 461v66M1492.5 435v27M1493.5 430v13M1494.5 440v22M1495.5 461v64M1496.5 524v39M1497.5 562v35M1498.5 596v22M1499.5 617v16M1500.5 630v13M1501.5 626v18M1502.5 615v15" stroke="#000" class="c"/>
<path d="M891.5 501v15M892.5 491v22M893.5 491v12M894.5 482v13M895.5 476v7M896.5 476v3M897.5 468v11M898.5 477v14M899.5 490v8M900.5 496v13M901.5 496v20M902.5 506v8M903.5 508v11M904.5 503v12M905.5 506v12M906.5 511v13M907.5 508v14M908.5 508v16M909.5 507v11M910.5 510v14M911.5 497v22M912.5 497v22M913.5 499v22M914.5 499v20M915.5 503v14M916.5 506v11M917.5 503v20M918.5 507v16M919.5 504v12M920.5 511v11M921.5 503v22M922.5 498v27M923.5 505v14M924.5 505v16M925.5 506v15M926.5 499v8M927.5 495v15M928.5 495v18M929.5 500v13M930.5 493v11M931.5 478v29M932.5 482v22M933.5 479v20M934.5 479v20M935.5 481v12M936.5 481v18M937.5 480v11M938.5 478v19M939.5 478v16M940.5 479v16M941.5 488v7M942.5 494v8M943.5 498v8M944.5 485v37M945.5 508v14M946.5 507v6M947.5 506v14M948.5 500v20M949.5 500v27M950.5 508v19M951.5 503v17M952.5 506v31M953.5 506v25M954.5 512v19M955.5 517v10M956.5 521v6M957.5 522v6M958.5 515v10M959.5 516v12M960.5 511v25M961.5 520v8M962.5 513v20M963.5 513v18M964.5 521v10M965.5 514v17M966.5 525v17M967.5 528v5M968.5 516v24M969.5 520v30M970.5 519v13M971.5 527v9M972.5 528v16M973.5 523v21M974.5 527v10M975.5 529v9M976.5 521v9M977.5 523v9M978.5 527v21M979.5 527v18M980.5 524v21M981.5 519v19M982.5 531v12M983.5 525v18M984.5 529v7M985.5 531v6M986.5 523v20M987.5 534v9M988.5 524v20M989.5 531v10M990.5 534v7M991.5 526v9M992.5 527v9M993.5 529v17M994.5 529v10M995.5 530v10M996.5 531v13M997.5 530v19M998.5 530v23M999.5 535v14M1000.5 532v9M1001.5 532v10M1002.5 527v13M1003.5 532v8M1004.5 528v24M1005.5 529v11M1006.5 531v10M1007.5 529v13M1008.5 532v10M1009.5 537v13M1010.5 537v13M1011.5 535v15M1012.5 539v11M1013.5 539v10M1014.5 538v12M1015.5 526v15M1016.5 538v8M1017.5 538v8M1018.5 535v8M1019.5 531v12M1020.5 538v17M1021.5 534v11M1022.5 531v14M1023.5 527v21M1024.5 536v12M1025.5 530v19M1026.5 527v14M1027.5 532v7M1028.5 532v7M1029.5 518v15M1030.5 513v7M1031.5 505v12M1032.5 505v12M1033.5 509v9M1034.5 510v22M1035.5 525v17M1036.5 532v7M1037.5 528v17M1038.5 528v25M1039.5 535v18M1040.5 536v8M1041.5 531v17M1042.5 539v10M1043.5 528v16M1044.5 535v12M1045.5 534v4M1046.5 528v15M1047.5 532v9M1048.5 520v16M1049.5 497v24M1050.5 457v41M1051.5 441v17M1052.5 436v12M1053.5 438v18M1054.5 452v16M1055.5 466v42M1056.5 506v15M1057.5 520v25M1058.5 537v9M1059.5 537v28M1060.5 547v18M1061.5 545v11M1062.5 545v12M1063.5 555v3M1064.5 552v8M1065.5 541v16M1066.5 541v14M1067.5 552v6M1068.5 549v18M1069.5 548v9M1070.5 551v5M1071.5 551v10M1072.5 557v5M1073.5 550v10M1074.5 546v20M1075.5 548v10M1076.5 549v16M1077.5 552v14M1078.5 552v9M1079.5 553v8M1080.5 553v10M1081.5 551v10M1082.5 551v14M1083.5 554v11M1084.5 548v17M1085.5 548v19M1086.5 554v12M1087.5 560v14M1088.5 555v7M1089.5 555v12M1090.5 550v13M1091.5 554v25M1092.5 555v14M1093.5 556v12M1094.5 558v11M1095.5 561v8M1096.5 550v19M1097.5 559v7M1098.5 559v5M1099.5 558v8M1100.5 559v9M1101.5 559v6M1102.5 555v12M1103.5 563v11M1104.5 559v15M1105.5 559v9M1106.5 559v11M1107.5 558v17M1108.5 560v13M1109.5 564v15M1110.5 559v10M1111.5 563v10M1112.5 557v13M1113.5 557v20M1114.5 564v14M1115.5 564v9M1116.5 562v11M1117.5 566v6M1118.5 570v3M1119.5 563v9M1120.5 559v15M1121.5 567v6M1122.5 563v22M1123.5 561v15M1124.5 558v18M1125.5 561v16M1126.5 568v23M1127.5 555v18M1128.5 560v14M1129.5 565v20M1130.5 559v23M1131.5 559v6M1132.5 544v21M1133.5 538v21M1134.5 522v18M1135.5 503v30M1136.5 495v10M1137.5 456v40M1138.5 432v25M1139.5 398v35M1140.5 356v43M1141.5 324v33M1142.5 300v35M1143.5 281v20M1144.5 258v28M1145.5 264v25M1146.5 268v21M1147.5 281v36M1148.5 316v21M1149.5 336v30M1150.5 365v39M1151.5 403v36M1152.5 436v38M1153.5 467v31M1154.5 497v24M1155.5 516v10M1156.5 516v34M1157.5 541v19M1158.5 541v25M1159.5 561v17M1160.5 561v16M1161.5 575v8M1162.5 563v20M1163.5 569v21M1164.5 572v27M1165.5 572v22M1166.5 579v14M1167.5 585v8M1168.5 589v8M1169.5 590v8M1170.5 586v10M1171.5 585v16M1172.5 581v23M1173.5 587v17M1174.5 582v15M1175.5 582v16M1176.5 592v11M1177.5 592v5M1178.5 589v13M1179.5 586v13M1180.5 584v21M1181.5 584v18M1182.5 589v10M1183.5 592v9M1184.5 586v15M1185.5 591v16M1186.5 590v17M1187.5 588v9M1188.5 590v6M1189.5 586v11M1190.5 585v23M1191.5 585v17M1192.5 594v8M1193.5 597v8M1194.5 592v14M1195.5 587v15M1196.5 587v13M1197.5 587v13M1198.5 590v16M1199.5 593v8M1200.5 588v16M1201.5 597v11M1202.5 594v10M1203.5 590v9M1204.5 593v16M1205.5 593v17M1206.5 591v10M1207.5 591v12M1208.5 587v16M1209.5 587v10M1210.5 588v8M1211.5 581v8M1212.5 581v12M1213.5 582v11M1214.5 583v14M1215.5 583v4M1216.5 585v14M1217.5 592v13M1218.5 591v16M1219.5 587v6M1220.5 592v19M1221.5 596v13M1222.5 592v18M1223.5 592v12M1224.5 587v17M1225.5 587v20M1226.5 597v9M1227.5 589v17M1228.5 590v14M1229.5 597v11M1230.5 589v21M1231.5 589v23M1232.5 596v9M1233.5 590v22M1234.5 589v20M1235.5 597v12M1236.5 599v5M1237.5 593v11M1238.5 588v12M1239.5 585v20M1240.5 576v10M1241.5 565v16M1242.5 533v33M1243.5 503v31M1244.5 475v29M1245.5 464v26M1246.5 469v23M1247.5 491v20M1248.5 509v38M1249.5 546v19M1250.5 564v19M1251.5 582v16M1252.5 593v6M1253.5 593v13M1254.5 598v4M1255.5 599v5M1256.5 603v6M1257.5 602v6M1258.5 602v11M1259.5 599v14M1260.5 602v16M1261.5 602v11M1262.5 605v8M1263.5 608v9M1264.5 602v15M1265.5 601v23M1266.5 602v22M1267.5 604v11M1268.5 611v7M1269.5 607v7M1270.5 611v5M1271.5 607v9M1272.5 608v15M1273.5 613v10M1274.5 606v11M1275.5 609v14M1276.5 612v6M1277.5 609v18M1278.5 607v20M1279.5 611v10M1280.5 610v8M1281.5 609v6M1282.5 595v15M1283.5 589v19M1284.5 589v9M1285.5 591v14M1286.5 591v9M1287.5 590v16M1288.5 600v15M1289.5 604v15M1290.5 610v11M1291.5 619v5M1292.5 615v13M1293.5 616v7M1294.5 616v10M1295.5 619v11M1296.5 618v21M1297.5 622v6M1298.5 618v14M1299.5 615v18M1300.5 620v20M1301.5 616v12M1302.5 620v8M1303.5 620v16M1304.5 614v22M1305.5 613v17M1306.5 626v5M1307.5 620v11M1308.5 620v12M1309.5 621v11M1310.5 623v11M1311.5 618v17M1312.5 618v19M1313.5 626v6M1314.5 623v7M1315.5 617v17M1316.5 621v11M1317.5 620v11M1318.5 627v7M1319.5 627v11M1320.5 623v15M1321.5 623v13M1322.5 619v12M1323.5 620v9M1324.5 622v5M1325.5 622v5M1326.5 615v12M1327.5 613v7M1328.5 610v4M1329.5 610v8M1330.5 614v4M1331.5 609v16M1332.5 615v13M1333.5 627v6M1334.5 623v8M1335.5 620v16M1336.5 619v17M1337.5 621v10M1338.5 625v7M1339.5 623v12M1340.5 623v12M1341.5 623v14M1342.5 632v4M1343.5 624v12M1344.5 625v7M1345.5 628v16M1346.5 625v19M1347.5 622v17M1348.5 629v12M1349.5 626v15M1350.5 626v7M1351.5 623v15M1352.5 627v12M1353.5 627v10M1354.5 627v10M1355.5 630v7M1356.5 628v8M1357.5 628v10M1358.5 629v13M1359.5 624v11M1360.5 624v10M1361.5 624v10M1362.5 620v14M1363.5 602v21M1364.5 599v7M1365.5 588v18M1366.5 595v10M1367.5 600v11M1368.5 610v22M1369.5 613v19M1370.5 622v11M1371.5 632v10M1372.5 622v16M1373.5 622v21M1374.5 630v13M1375.5 636v4M1376.5 630v8M1377.5 635v4M1378.5 630v14M1379.5 630v10M1380.5 635v3M1381.5 627v12M1382.5 628v10M1383.5 628v20M1384.5 635v11M1385.5 628v18M1386.5 634v8M1387.5 634v9M1388.5 630v15M1389.5 631v10M1390.5 623v22M1391.5 630v17M1392.5 627v21M1393.5 636v10M1394.5 629v15M1395.5 628v12M1396.5 627v17M1397.5 634v10M1398.5 634v8M1399.5 631v20M1400.5 630v14M1401.5 630v11M1402.5 632v10M1403.5 638v5M1404.5 633v17M1405.5 637v9M1406.5 639v6M1407.5 630v15M1408.5 632v8M1409.5 629v15M1410.5 631v13M1411.5 634v10M1412.5 637v14M1413.5 634v14M1414.5 634v13M1415.5 632v15M1416.5 636v5M1417.5 633v15M1418.5 635v7M1419.5 634v11M1420.5 634v11M1421.5 634v14M1422.5 634v17M1423.5 640v11M1424.5 634v8M1425.5 632v11M1426.5 631v14M1427.5 638v2M1428.5 638v14M1429.5 636v9M1430.5 636v16M1431.5 642v6M1432.5 641v10M1433.5 641v5M1434.5 640v9M1435.5 637v8M1436.5 642v4M1437.5 638v10M1438.5 632v16M1439.5 634v16M1440.5 637v13M1441.5 634v13M1442.5 626v12M1443.5 625v11M1444.5 623v9M1445.5 623v16M1446.5 634v7M1447.5 635v21M1448.5 641v15M1449.5 638v11M1450.5 643v7M1451.5 640v9M1452.5 640v8M1453.5 640v11M1454.5 644v15M1455.5 642v9M1456.5 644v12M1457.5 639v9M1458.5 639v15M1459.5 649v3M1460.5 650v3M1461.5 646v11M1462.5 640v10M1463.5 640v14M1464.5 640v19M1465.5 642v12M1466.5 642v14M1467.5 646v9M1468.5 642v16M1469.5 648v7M1470.5 643v12M1471.5 635v22M1472.5 633v20M1473.5 645v12M1474.5 651v6M1475.5 640v12M1476.5 646v8M1477.5 645v9M1478.5 639v13M1479.5 639v17M1480.5 643v9M1481.5 647v8M1482.5 646v6M1483.5 645v8M1484.5 645v15M1485.5 648v7M1486.5 638v11M1487.5 623v22M1488.5 605v19M1489.5 560v46M1490.5 526v35M1491.5 461v66M1492.5 435v27M1493.5 430v13M1494.5 440v22M1495.5 461v64M1496.5 524v39M1497.5 562v35M1498.5 596v22M1499.5 617v16M1500.5 630v13M1501.5 626v18M1502.5 615v15" stroke="#f00" class="c"/>
<rect x="890.5" y="83.5" width="613" height="605" fill="none" stroke="#000" class="c"/>
<path d="M890.5 689V670M1043.5 689V670M1196.5 689V670M1350.5 689V670M1503.5 689V670M920.5 689V679M951.5 689V679M982.5 689V679M1012.5 689V679M1074.5 689V679M1104.5 689V679M1135.5 689V679M1166.5 689V679M1227.5 689V679M1258.5 689V679M1288.5 689V679M1319.5 689V679M1380.5 689V679M1411.5 689V679M1442.5 689V679M1472.5 689V679M890 669.5H909M890 603.5H909M890 536.5H909M890 470.5H909M890 404.5H909M890 337.5H909M890 271.5H909M890 204.5H909M890 138.5H909M890 686.5H900M890 653.5H900M890 636.5H900M890 619.5H900M890 586.5H900M890 570.5H900M890 553.5H900M890 520.5H900M890 503.5H900M890 487.5H900M890 453.5H900M890 437.5H900M890 420.5H900M890 387.5H900M890 370.5H900M890 354.5H900M890 321.5H900M890 304.5H900M890 287.5H900M890 254.5H900M890 238.5H900M890 221.5H900M890 188.5H900M890 171.5H900M890 155.5H900M890 121.5H900M890 105.5H900M890 88.5H900" stroke="#000" class="c"/>
<g transform="translate(889.30 0) scale(1.055 1) translate(-889.30 0)"><g transform="translate(0 713.00) scale(1 1.030) translate(0 -713.00)"><text x="870.11" y="713.00" font-size="23"> 50</text><path d="M346 0V712H268C254 640 210 604 98 600V536H255V0Z" transform="translate(870.11 713.00) scale(0.02300 -0.02300)" style="fill:#000"/></g></g>
<g transform="translate(1042.55 0) scale(1.055 1) translate(-1042.55 0)"><g transform="translate(0 713.00) scale(1 1.030) translate(0 -713.00)"><text x="1023.36" y="713.00" font-size="23">200</text></g></g>
<g transform="translate(1195.80 0) scale(1.055 1) translate(-1195.80 0)"><g transform="translate(0 713.00) scale(1 1.030) translate(0 -713.00)"><text x="1176.61" y="713.00" font-size="23">250</text></g></g>
<g transform="translate(1349.05 0) scale(1.055 1) translate(-1349.05 0)"><g transform="translate(0 713.00) scale(1 1.030) translate(0 -713.00)"><text x="1329.86" y="713.00" font-size="23">300</text></g></g>
<g transform="translate(1502.30 0) scale(1.055 1) translate(-1502.30 0)"><g transform="translate(0 713.00) scale(1 1.030) translate(0 -713.00)"><text x="1483.11" y="713.00" font-size="23">350</text></g></g>
<g transform="translate(885.30 0) scale(1.055 1) translate(-885.30 0)"><g transform="translate(0 677.81) scale(1 1.030) translate(0 -677.81)"><text x="846.93" y="677.81" font-size="23">200</text></g></g>
<g transform="translate(885.30 0) scale(1.055 1) translate(-885.30 0)"><g transform="translate(0 611.43) scale(1 1.030) translate(0 -611.43)"><text x="846.93" y="611.43" font-size="23">400</text></g></g>
<g transform="translate(885.30 0) scale(1.055 1) translate(-885.30 0)"><g transform="translate(0 545.05) scale(1 1.030) translate(0 -545.05)"><text x="846.93" y="545.05" font-size="23">600</text></g></g>
<g transform="translate(885.30 0) scale(1.055 1) translate(-885.30 0)"><g transform="translate(0 478.67) scale(1 1.030) translate(0 -478.67)"><text x="846.93" y="478.67" font-size="23">800</text></g></g>
<g transform="translate(885.30 0) scale(1.055 1) translate(-885.30 0)"><g transform="translate(0 412.29) scale(1 1.030) translate(0 -412.29)"><text x="834.13" y="412.29" font-size="23"> 000</text><path d="M346 0V712H268C254 640 210 604 98 600V536H255V0Z" transform="translate(834.13 412.29) scale(0.02300 -0.02300)" style="fill:#000"/></g></g>
<g transform="translate(885.30 0) scale(1.055 1) translate(-885.30 0)"><g transform="translate(0 345.91) scale(1 1.030) translate(0 -345.91)"><text x="834.13" y="345.91" font-size="23"> 200</text><path d="M346 0V712H268C254 640 210 604 98 600V536H255V0Z" transform="translate(834.13 345.91) scale(0.02300 -0.02300)" style="fill:#000"/></g></g>
<g transform="translate(885.30 0) scale(1.055 1) translate(-885.30 0)"><g transform="translate(0 279.53) scale(1 1.030) translate(0 -279.53)"><text x="834.13" y="279.53" font-size="23"> 400</text><path d="M346 0V712H268C254 640 210 604 98 600V536H255V0Z" transform="translate(834.13 279.53) scale(0.02300 -0.02300)" style="fill:#000"/></g></g>
<g transform="translate(885.30 0) scale(1.055 1) translate(-885.30 0)"><g transform="translate(0 213.15) scale(1 1.030) translate(0 -213.15)"><text x="834.13" y="213.15" font-size="23"> 600</text><path d="M346 0V712H268C254 640 210 604 98 600V536H255V0Z" transform="translate(834.13 213.15) scale(0.02300 -0.02300)" style="fill:#000"/></g></g>
<g transform="translate(885.30 0) scale(1.055 1) translate(-885.30 0)"><g transform="translate(0 146.77) scale(1 1.030) translate(0 -146.77)"><text x="834.13" y="146.77" font-size="23"> 800</text><path d="M346 0V712H268C254 640 210 604 98 600V536H255V0Z" transform="translate(834.13 146.77) scale(0.02300 -0.02300)" style="fill:#000"/></g></g>
<g transform="translate(0 44.00) scale(1 1.030) translate(0 -44.00)"><text x="184.00" y="44.00" font-size="35.3">Ti Simulated Lyman Series</text></g>
<g transform="translate(0 45.00) scale(1 1.030) translate(0 -45.00)"><text x="997.20" y="45.00" font-size="33.2">Ti Simulated Balmer Series</text></g>
<g transform="translate(0 737) scale(1 1.03) translate(0 -737)"><text x="701" y="737" text-anchor="end" font-size="24.1">Energy (keV)</text></g>
<g transform="translate(0 737) scale(1 1.03) translate(0 -737)"><text x="1499.5" y="737" text-anchor="end" font-size="24.1">Energy (keV)</text></g>
<rect x="399.5" y="83.5" width="306" height="151" fill="#f1f1f1" stroke="#000" class="c"/>
<rect x="410" y="94" width="54" height="53" fill="#fff"/>
<rect x="410" y="170" width="54" height="53" fill="#fff"/>
<path d="M410 121.5H465" stroke="#f00" class="c"/><rect x="437" y="121" width="1" height="1" fill="#000"/>
<path d="M410 196.5H465" stroke="#000" class="c"/>
<g transform="translate(0 132.30) scale(1 1.020) translate(0 -132.30)"><text x="475.00" y="132.30" font-size="28">Al 00 OOT Data</text><path d="M346 0V712H268C254 640 210 604 98 600V536H255V0Z" transform="translate(499.90 132.30) scale(0.02800 -0.02800)" style="fill:#000"/></g>
<g transform="translate(0 204.00) scale(1 1.020) translate(0 -204.00)"><text x="475.00" y="204.00" font-size="28">+Simulated Ti </text></g>
<path d="M654.6 195C655 191.3 657.6 189.6 659.2 193.6L661.3 200.6M666.6 190.4L661.4 201.2C660.5 203.8 660 206 660.1 207.4C660.4 209.3 661.8 208.9 661.7 206.4L661.5 202.4" stroke="#000" stroke-width="2.0" fill="none" stroke-linecap="round"/>
<g transform="translate(0 204.00) scale(1 1.020) translate(0 -204.00)"><text x="668.00" y="204.00" font-size="28">s</text></g>
<rect x="345.5" y="234.5" width="360" height="302.5" fill="#f1f1f1" stroke="#000" class="c"/>
<g transform="translate(0 267.40) scale(1 1.020) translate(0 -267.40)"><text x="431.00" y="267.40" font-size="28">Transition</text></g>
<g transform="translate(0 263.80) scale(1 1.020) translate(0 -263.80)"><text x="585.50" y="263.80" font-size="28">Energy</text></g>
<g transform="translate(0 309.50) scale(1 1.020) translate(0 -309.50)"><text x="375.00" y="309.50" font-size="28">A:</text></g>
<g transform="translate(0 305.90) scale(1 1.020) translate(0 -305.90)"><text x="430.50" y="305.90" font-size="28">2p</text></g><path d="M463.74 299.00H487.44M481.14 293.00L487.84 299.00L481.14 305.00" stroke="#000" stroke-width="1.9" fill="none" stroke-linecap="round" stroke-linejoin="miter"/><g transform="translate(0 305.90) scale(1 1.020) translate(0 -305.90)"><text x="489.34" y="305.90" font-size="28"> s</text><path d="M346 0V712H268C254 640 210 604 98 600V536H255V0Z" transform="translate(489.34 305.90) scale(0.02800 -0.02800)" style="fill:#000"/></g>
<g transform="translate(0 309.50) scale(1 1.020) translate(0 -309.50)"><text x="584.80" y="309.50" font-size="28">942 keV</text></g>
<g transform="translate(0 352.64) scale(1 1.020) translate(0 -352.64)"><text x="375.00" y="352.64" font-size="28">B:</text></g>
<g transform="translate(0 349.04) scale(1 1.020) translate(0 -349.04)"><text x="430.50" y="349.04" font-size="28">3p</text></g><path d="M463.74 342.14H487.44M481.14 336.14L487.84 342.14L481.14 348.14" stroke="#000" stroke-width="1.9" fill="none" stroke-linecap="round" stroke-linejoin="miter"/><g transform="translate(0 349.04) scale(1 1.020) translate(0 -349.04)"><text x="489.34" y="349.04" font-size="28"> s</text><path d="M346 0V712H268C254 640 210 604 98 600V536H255V0Z" transform="translate(489.34 349.04) scale(0.02800 -0.02800)" style="fill:#000"/></g>
<g transform="translate(0 352.64) scale(1 1.020) translate(0 -352.64)"><text x="584.80" y="352.64" font-size="28">  22 keV</text><path d="M346 0V712H268C254 640 210 604 98 600V536H255V0Z" transform="translate(584.80 352.64) scale(0.02800 -0.02800)" style="fill:#000"/><path d="M346 0V712H268C254 640 210 604 98 600V536H255V0Z" transform="translate(600.37 352.64) scale(0.02800 -0.02800)" style="fill:#000"/></g>
<g transform="translate(0 395.78) scale(1 1.020) translate(0 -395.78)"><text x="375.00" y="395.78" font-size="28">C:</text></g>
<g transform="translate(0 392.18) scale(1 1.020) translate(0 -392.18)"><text x="430.50" y="392.18" font-size="28">4p</text></g><path d="M463.74 385.28H487.44M481.14 379.28L487.84 385.28L481.14 391.28" stroke="#000" stroke-width="1.9" fill="none" stroke-linecap="round" stroke-linejoin="miter"/><g transform="translate(0 392.18) scale(1 1.020) translate(0 -392.18)"><text x="489.34" y="392.18" font-size="28"> s</text><path d="M346 0V712H268C254 640 210 604 98 600V536H255V0Z" transform="translate(489.34 392.18) scale(0.02800 -0.02800)" style="fill:#000"/></g>
<g transform="translate(0 395.78) scale(1 1.020) translate(0 -395.78)"><text x="584.80" y="395.78" font-size="28">  89 keV</text><path d="M346 0V712H268C254 640 210 604 98 600V536H255V0Z" transform="translate(584.80 395.78) scale(0.02800 -0.02800)" style="fill:#000"/><path d="M346 0V712H268C254 640 210 604 98 600V536H255V0Z" transform="translate(600.37 395.78) scale(0.02800 -0.02800)" style="fill:#000"/></g>
<g transform="translate(0 438.92) scale(1 1.020) translate(0 -438.92)"><text x="375.00" y="438.92" font-size="28">D:</text></g>
<g transform="translate(0 435.32) scale(1 1.020) translate(0 -435.32)"><text x="430.50" y="435.32" font-size="28">5p</text></g><path d="M463.74 428.42H487.44M481.14 422.42L487.84 428.42L481.14 434.42" stroke="#000" stroke-width="1.9" fill="none" stroke-linecap="round" stroke-linejoin="miter"/><g transform="translate(0 435.32) scale(1 1.020) translate(0 -435.32)"><text x="489.34" y="435.32" font-size="28"> s</text><path d="M346 0V712H268C254 640 210 604 98 600V536H255V0Z" transform="translate(489.34 435.32) scale(0.02800 -0.02800)" style="fill:#000"/></g>
<g transform="translate(0 438.92) scale(1 1.020) translate(0 -438.92)"><text x="584.80" y="438.92" font-size="28"> 220 keV</text><path d="M346 0V712H268C254 640 210 604 98 600V536H255V0Z" transform="translate(584.80 438.92) scale(0.02800 -0.02800)" style="fill:#000"/></g>
<g transform="translate(0 482.06) scale(1 1.020) translate(0 -482.06)"><text x="375.00" y="482.06" font-size="28">E:</text></g>
<g transform="translate(0 478.46) scale(1 1.020) translate(0 -478.46)"><text x="430.50" y="478.46" font-size="28">6p</text></g><path d="M463.74 471.56H487.44M481.14 465.56L487.84 471.56L481.14 477.56" stroke="#000" stroke-width="1.9" fill="none" stroke-linecap="round" stroke-linejoin="miter"/><g transform="translate(0 478.46) scale(1 1.020) translate(0 -478.46)"><text x="489.34" y="478.46" font-size="28"> s</text><path d="M346 0V712H268C254 640 210 604 98 600V536H255V0Z" transform="translate(489.34 478.46) scale(0.02800 -0.02800)" style="fill:#000"/></g>
<g transform="translate(0 482.06) scale(1 1.020) translate(0 -482.06)"><text x="584.80" y="482.06" font-size="28"> 236 keV</text><path d="M346 0V712H268C254 640 210 604 98 600V536H255V0Z" transform="translate(584.80 482.06) scale(0.02800 -0.02800)" style="fill:#000"/></g>
<g transform="translate(0 525.20) scale(1 1.020) translate(0 -525.20)"><text x="375.00" y="525.20" font-size="28">F:</text></g>
<g transform="translate(0 521.60) scale(1 1.020) translate(0 -521.60)"><text x="430.50" y="521.60" font-size="28">7p</text></g><path d="M463.74 514.70H487.44M481.14 508.70L487.84 514.70L481.14 520.70" stroke="#000" stroke-width="1.9" fill="none" stroke-linecap="round" stroke-linejoin="miter"/><g transform="translate(0 521.60) scale(1 1.020) translate(0 -521.60)"><text x="489.34" y="521.60" font-size="28"> s</text><path d="M346 0V712H268C254 640 210 604 98 600V536H255V0Z" transform="translate(489.34 521.60) scale(0.02800 -0.02800)" style="fill:#000"/></g>
<g transform="translate(0 525.20) scale(1 1.020) translate(0 -525.20)"><text x="584.80" y="525.20" font-size="28"> 246 keV</text><path d="M346 0V712H268C254 640 210 604 98 600V536H255V0Z" transform="translate(584.80 525.20) scale(0.02800 -0.02800)" style="fill:#000"/></g>
<rect x="1158.5" y="83.5" width="345" height="303" fill="#f1f1f1" stroke="#000" class="c"/>
<g transform="translate(0 111.10) scale(1 1.020) translate(0 -111.10)"><text x="1245.00" y="111.10" font-size="28">Transition</text></g>
<g transform="translate(0 108.40) scale(1 1.020) translate(0 -108.40)"><text x="1398.50" y="108.40" font-size="28">Energy</text></g>
<g transform="translate(0 143.30) scale(1 1.020) translate(0 -143.30)"><text x="1187.00" y="143.30" font-size="28">G:</text></g>
<g transform="translate(0 140.50) scale(1 1.020) translate(0 -140.50)"><text x="1244.70" y="140.50" font-size="28">3d,s</text></g><path d="M1299.72 133.60H1323.42M1317.12 127.60L1323.82 133.60L1317.12 139.60" stroke="#000" stroke-width="1.9" fill="none" stroke-linecap="round" stroke-linejoin="miter"/><g transform="translate(0 140.50) scale(1 1.020) translate(0 -140.50)"><text x="1325.32" y="140.50" font-size="28">2p</text></g>
<g transform="translate(0 143.30) scale(1 1.020) translate(0 -143.30)"><text x="1398.00" y="143.30" font-size="28"> 90 keV</text><path d="M346 0V712H268C254 640 210 604 98 600V536H255V0Z" transform="translate(1398.00 143.30) scale(0.02800 -0.02800)" style="fill:#000"/></g>
<g transform="translate(0 177.00) scale(1 1.020) translate(0 -177.00)"><text x="1187.00" y="177.00" font-size="28">H:</text></g>
<g transform="translate(0 174.20) scale(1 1.020) translate(0 -174.20)"><text x="1244.70" y="174.20" font-size="28">3p</text></g><path d="M1277.94 167.30H1301.64M1295.34 161.30L1302.04 167.30L1295.34 173.30" stroke="#000" stroke-width="1.9" fill="none" stroke-linecap="round" stroke-linejoin="miter"/><g transform="translate(0 174.20) scale(1 1.020) translate(0 -174.20)"><text x="1303.54" y="174.20" font-size="28">2s</text></g>
<g transform="translate(0 177.00) scale(1 1.020) translate(0 -177.00)"><text x="1398.00" y="177.00" font-size="28"> 79 keV</text><path d="M346 0V712H268C254 640 210 604 98 600V536H255V0Z" transform="translate(1398.00 177.00) scale(0.02800 -0.02800)" style="fill:#000"/></g>
<g transform="translate(0 210.70) scale(1 1.020) translate(0 -210.70)"><text x="1187.00" y="210.70" font-size="28">I:</text></g>
<g transform="translate(0 207.90) scale(1 1.020) translate(0 -207.90)"><text x="1244.70" y="207.90" font-size="28">4d,s</text></g><path d="M1299.72 201.00H1323.42M1317.12 195.00L1323.82 201.00L1317.12 207.00" stroke="#000" stroke-width="1.9" fill="none" stroke-linecap="round" stroke-linejoin="miter"/><g transform="translate(0 207.90) scale(1 1.020) translate(0 -207.90)"><text x="1325.32" y="207.90" font-size="28">2p</text></g>
<g transform="translate(0 210.70) scale(1 1.020) translate(0 -210.70)"><text x="1398.00" y="210.70" font-size="28">255 keV</text></g>
<g transform="translate(0 244.40) scale(1 1.020) translate(0 -244.40)"><text x="1187.00" y="244.40" font-size="28">J:</text></g>
<g transform="translate(0 241.60) scale(1 1.020) translate(0 -241.60)"><text x="1244.70" y="241.60" font-size="28">4p</text></g><path d="M1277.94 234.70H1301.64M1295.34 228.70L1302.04 234.70L1295.34 240.70" stroke="#000" stroke-width="1.9" fill="none" stroke-linecap="round" stroke-linejoin="miter"/><g transform="translate(0 241.60) scale(1 1.020) translate(0 -241.60)"><text x="1303.54" y="241.60" font-size="28">2s</text></g>
<g transform="translate(0 244.40) scale(1 1.020) translate(0 -244.40)"><text x="1398.00" y="244.40" font-size="28">244 keV</text></g>
<g transform="translate(0 278.10) scale(1 1.020) translate(0 -278.10)"><text x="1187.00" y="278.10" font-size="28">K:</text></g>
<g transform="translate(0 275.30) scale(1 1.020) translate(0 -275.30)"><text x="1244.70" y="275.30" font-size="28">5d,s</text></g><path d="M1299.72 268.40H1323.42M1317.12 262.40L1323.82 268.40L1317.12 274.40" stroke="#000" stroke-width="1.9" fill="none" stroke-linecap="round" stroke-linejoin="miter"/><g transform="translate(0 275.30) scale(1 1.020) translate(0 -275.30)"><text x="1325.32" y="275.30" font-size="28">2p</text></g>
<g transform="translate(0 278.10) scale(1 1.020) translate(0 -278.10)"><text x="1398.00" y="278.10" font-size="28">286 keV</text></g>
<g transform="translate(0 311.80) scale(1 1.020) translate(0 -311.80)"><text x="1187.00" y="311.80" font-size="28">L:</text></g>
<g transform="translate(0 309.00) scale(1 1.020) translate(0 -309.00)"><text x="1244.70" y="309.00" font-size="28">5p</text></g><path d="M1277.94 302.10H1301.64M1295.34 296.10L1302.04 302.10L1295.34 308.10" stroke="#000" stroke-width="1.9" fill="none" stroke-linecap="round" stroke-linejoin="miter"/><g transform="translate(0 309.00) scale(1 1.020) translate(0 -309.00)"><text x="1303.54" y="309.00" font-size="28">2s</text></g>
<g transform="translate(0 311.80) scale(1 1.020) translate(0 -311.80)"><text x="1398.00" y="311.80" font-size="28">275 keV</text></g>
<g transform="translate(0 345.50) scale(1 1.020) translate(0 -345.50)"><text x="1187.00" y="345.50" font-size="28">M:</text></g>
<g transform="translate(0 342.70) scale(1 1.020) translate(0 -342.70)"><text x="1244.70" y="342.70" font-size="28">6d,s</text></g><path d="M1299.72 335.80H1323.42M1317.12 329.80L1323.82 335.80L1317.12 341.80" stroke="#000" stroke-width="1.9" fill="none" stroke-linecap="round" stroke-linejoin="miter"/><g transform="translate(0 342.70) scale(1 1.020) translate(0 -342.70)"><text x="1325.32" y="342.70" font-size="28">2p</text></g>
<g transform="translate(0 345.50) scale(1 1.020) translate(0 -345.50)"><text x="1398.00" y="345.50" font-size="28">302 keV</text></g>
<g transform="translate(0 379.20) scale(1 1.020) translate(0 -379.20)"><text x="1187.00" y="379.20" font-size="28">N:</text></g>
<g transform="translate(0 376.40) scale(1 1.020) translate(0 -376.40)"><text x="1244.70" y="376.40" font-size="28">7d,s</text></g><path d="M1299.72 369.50H1323.42M1317.12 363.50L1323.82 369.50L1317.12 375.50" stroke="#000" stroke-width="1.9" fill="none" stroke-linecap="round" stroke-linejoin="miter"/><g transform="translate(0 376.40) scale(1 1.020) translate(0 -376.40)"><text x="1325.32" y="376.40" font-size="28">2p</text></g>
<g transform="translate(0 379.20) scale(1 1.020) translate(0 -379.20)"><text x="1398.00" y="379.20" font-size="28">3 2 keV</text><path d="M346 0V712H268C254 640 210 604 98 600V536H255V0Z" transform="translate(1413.57 379.20) scale(0.02800 -0.02800)" style="fill:#000"/></g>
<text transform="translate(129.53 302.60) scale(1 1.07)" x="0" y="0" font-size="35" font-weight="bold">A</text>
<text transform="translate(450.46 592.20) scale(1 1.07)" x="0" y="0" font-size="35" font-weight="bold">B</text>
<text transform="translate(581.76 630.20) scale(1 1.07)" x="0" y="0" font-size="35" font-weight="bold">C</text>
<text transform="translate(635.26 630.20) scale(1 1.07)" x="0" y="0" font-size="35" font-weight="bold">D</text>
<text transform="translate(663.76 630.20) scale(1 1.07)" x="0" y="0" font-size="35" font-weight="bold">E</text>
<text transform="translate(685.76 630.20) scale(1 1.07)" x="0" y="0" font-size="35" font-weight="bold">F</text>
<text transform="translate(981.86 138.60) scale(1 1.07)" x="0" y="0" font-size="35" font-weight="bold">G</text>
<text transform="translate(963.66 502.90) scale(1 1.07)" x="0" y="0" font-size="35" font-weight="bold">H</text>
<text transform="translate(1205.46 519.80) scale(1 1.07)" x="0" y="0" font-size="35" font-weight="bold">I</text>
<text transform="translate(1168.77 585.60) scale(1 1.07)" x="0" y="0" font-size="35" font-weight="bold">J</text>
<text transform="translate(1257.96 602.60) scale(1 1.07)" x="0" y="0" font-size="35" font-weight="bold">L</text>
<text transform="translate(1291.06 599.20) scale(1 1.07)" x="0" y="0" font-size="35" font-weight="bold">K</text>
<text transform="translate(1332.66 602.80) scale(1 1.07)" x="0" y="0" font-size="35" font-weight="bold">M</text>
<text transform="translate(1378.86 619.00) scale(1 1.07)" x="0" y="0" font-size="35" font-weight="bold">N</text>
</svg></body></html>
